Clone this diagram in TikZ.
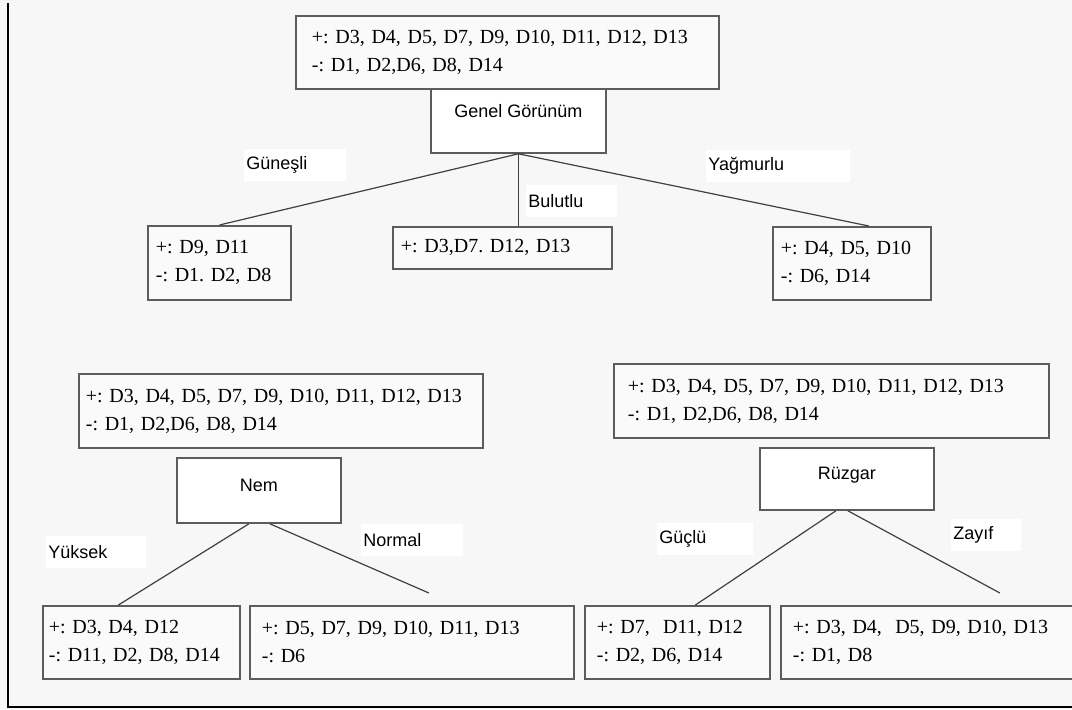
\documentclass[tikz,border=0pt]{standalone}
\usepackage{fontspec}
\setmainfont{Liberation Serif}
\newfontfamily\etiketfont{Liberation Sans}
\usepackage{tikz}
\definecolor{zemin}{HTML}{F7F7F7}
\definecolor{kenar}{HTML}{5C5C5C}
\definecolor{kutuic}{HTML}{FAFAFA}
\tikzstyle{kume}=[
	draw=kenar,
	line width=0.9pt,
	fill=kutuic,
	rectangle,
	anchor=north west,
	align=left,
	inner xsep=4pt,
	inner ysep=0pt,
	font=\frenchspacing\fontsize{10}{14}\selectfont]
\tikzstyle{nitelik}=[
	draw=kenar,
	line width=0.9pt,
	fill=white,
	rectangle,
	anchor=north west,
	align=center,
	inner sep=0pt,
	text height=7pt,
	font=\etiketfont\fontsize{9}{11}\selectfont]
\tikzstyle{dal}=[
	fill=white,
	rectangle,
	anchor=west,
	align=left,
	inner xsep=1pt,
	minimum height=16pt,
	font=\etiketfont\fontsize{9}{11}\selectfont]
\tikzstyle{kol}=[
	draw=black!75,
	line width=0.6pt]

\begin{document}
\begin{tikzpicture}[x=0.5pt,y=-0.5pt]
	\fill[zemin] (0,0) rectangle (1072,709);
	\useasboundingbox (0,0) rectangle (1072,709);
	\draw[black,line width=1pt] (8,3) -- (8,707) -- (1072,707);
	\begin{scope}
		\node[kume,inner xsep=8pt,text width=195.5pt,minimum height=36.5pt] (kok) at (295,15) {+: D3, D4, D5, D7, D9, D10, D11, D12, D13\\-: D1, D2,D6, D8, D14};
		\node[nitelik,minimum width=87.5pt,minimum height=32pt,text depth=10.4pt] (genel) at (430,88) {Genel Görünüm};
		\node[kume,text width=63.5pt,minimum height=37pt] (gunesli) at (147,225) {+: D9, D11\\-: D1. D2, D8};
		\node[kume,text width=101.5pt,minimum height=21pt] (bulutlu) at (392,226) {+: D3,D7. D12, D13};
		\node[kume,text width=71pt,minimum height=36.5pt] (yagmurlu) at (772,226) {+: D4, D5, D10\\-: D6, D14};
		\draw[kol] (genel.south) -- (gunesli.north);
		\draw[kol] (genel.south) -- (genel.south |- bulutlu.north);
		\draw[kol] (genel.south) -- ([xshift=8.5pt]yagmurlu.north);
		\node[dal,text width=49pt] (lgunesli) at (244,165) {Güneşli};
		\node[dal,text width=43.5pt] (lbulutlu) at (526,201) {Bulutlu};
		\node[dal,text width=70pt] (lyagmurlu) at (706,166) {Yağmurlu};
	\end{scope}
	\begin{scope}
		\node[kume,inner xsep=3.5pt,text width=195pt,minimum height=37pt] (koknem) at (78,373) {+: D3, D4, D5, D7, D9, D10, D11, D12, D13\\-: D1, D2,D6, D8, D14};
		\node[nitelik,minimum width=82pt,minimum height=32.5pt,text depth=5.9pt] (nem) at (176,457) {Nem};
		\node[kume,inner xsep=3pt,text width=92.5pt,minimum height=36.5pt] (yuksek) at (42,605) {+: D3, D4, D12\\-: D11, D2, D8, D14};
		\node[kume,inner xsep=6pt,text width=150pt,minimum height=36.5pt] (normal) at (249,605) {+: D5, D7, D9, D10, D11, D13\\-: D6};
		\draw[kol] ([xshift=-5pt]nem.south) -- ([xshift=-11.5pt]yuksek.north);
		\draw[kol] ([xshift=5.5pt]nem.south) -- ([xshift=8.5pt,yshift=6pt]normal.north);
		\node[dal,text width=48pt] (lyuksek) at (46,552) {Yüksek};
		\node[dal,text width=49pt] (lnormal) at (361,540) {Normal};
	\end{scope}
	\begin{scope}
		\node[kume,inner xsep=7pt,text width=203.5pt,minimum height=37pt] (kokruz) at (613,363) {+: D3, D4, D5, D7, D9, D10, D11, D12, D13\\-: D1, D2,D6, D8, D14};
		\node[nitelik,minimum width=87pt,minimum height=31pt,text depth=6.4pt] (ruzgar) at (759,447) {Rüzgar};
		\node[kume,inner xsep=6pt,text width=80.5pt,minimum height=36.5pt] (guclu) at (584,605) {+: D7,\ \ D11, D12\\-: D2, D6, D14};
		\node[kume,inner xsep=6pt,text width=140.5pt,minimum height=36.5pt] (zayif) at (780,605) {+: D3, D4,\ \ D5, D9, D10, D13\\-: D1, D8};
		\draw[kol] ([xshift=-5.5pt]ruzgar.south) -- ([xshift=9pt]guclu.north);
		\draw[kol] ([xshift=0.5pt]ruzgar.south) -- ([xshift=33.25pt,yshift=6pt]zayif.north);
		\node[dal,text width=46pt] (lguclu) at (657,539) {Güçlü};
		\node[dal,text width=33pt] (lzayif) at (951,535) {Zayıf};
	\end{scope}
\end{tikzpicture}
\end{document}
